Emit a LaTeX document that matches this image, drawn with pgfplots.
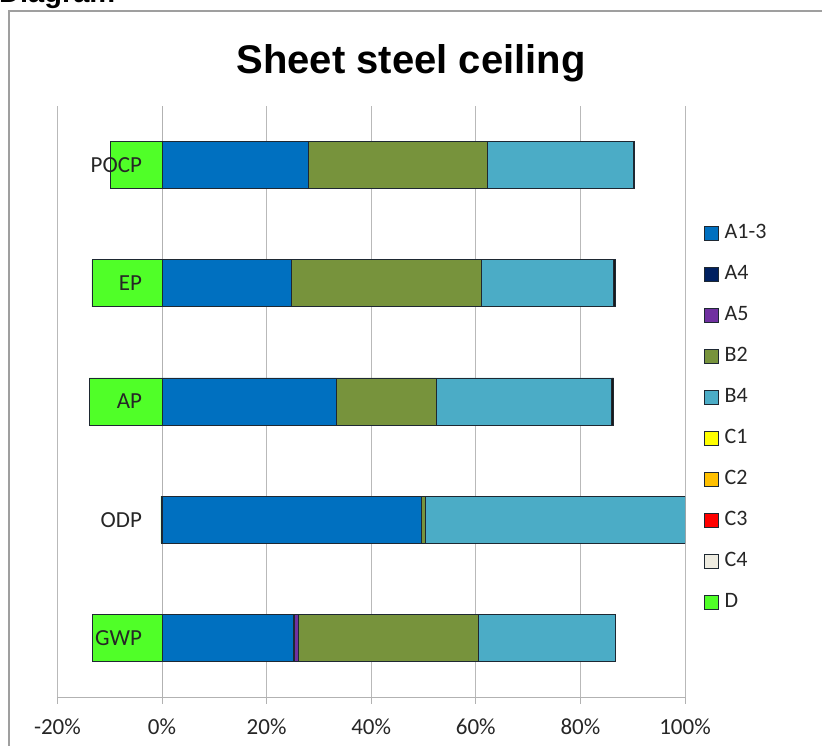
\documentclass[border=0pt]{standalone}
\usepackage{fontspec}
\setmainfont{Carlito}
\newfontfamily\arialfont{Liberation Sans}
\usepackage{pgfplots}
\pgfplotsset{compat=1.18}
\definecolor{cA13}{RGB}{0,112,192}
\definecolor{cA4}{RGB}{0,32,96}
\definecolor{cA5}{RGB}{112,48,160}
\definecolor{cB2}{RGB}{119,147,60}
\definecolor{cB4}{RGB}{75,172,198}
\definecolor{cC1}{RGB}{255,255,0}
\definecolor{cC2}{RGB}{255,192,0}
\definecolor{cC3}{RGB}{255,0,0}
\definecolor{cC4}{RGB}{238,236,225}
\definecolor{cD}{RGB}{80,255,40}
\definecolor{edge}{RGB}{30,40,50}
\pgfplotsset{
  common/.style={
    at={(57.4pt,49pt)}, anchor=south west, scale only axis,
    width=627.6pt, height=591pt,
    xmin=-20, xmax=100, ymin=-0.5, ymax=4.5,
    bar width=47pt,
  },
}
\begin{document}
\begin{tikzpicture}[x=1pt,y=1pt]
\useasboundingbox (0,0) rectangle (822,746);
\begin{scope}
\clip (0,0) rectangle (822,746);
\draw[gray!75, line width=1.4pt] (9,-20) rectangle (840,735);
\node[font=\arialfont\bfseries\fontsize{29}{32}\selectfont, anchor=base west, inner sep=0pt] at (-1,743) {Diagram};
\end{scope}
\node[font=\arialfont\bfseries\fontsize{40}{46}\selectfont, anchor=base, inner sep=0pt] at (411,672) {Sheet steel ceiling};
% module D (negative), drawn first so that the labels lie over it
\begin{axis}[common, hide axis, xbar]
\addplot[fill=cD, draw=edge, line width=0.7pt] coordinates {(-13.3,0) (-0.2,1) (-13.9,2) (-13.4,3) (-9.9,4)};
\end{axis}
\begin{axis}[
  common,
  xbar stacked,
  axis x line=bottom, axis y line=middle,
  axis line style={-, draw=gray!60, line width=0.8pt},
  xtick={-20,0,20,40,60,80,100},
  xticklabel={\pgfmathprintnumber{\tick}\%},
  xtick align=outside, major tick length=7pt,
  xtick style={draw=gray!60, line width=0.8pt},
  xmajorgrids, grid style={gray!55, line width=0.8pt},
  ytick={0,1,2,3,4}, yticklabels={GWP,ODP,AP,EP,POCP},
  ytick style={draw=none},
  extra y ticks={0.5,1.5,2.5,3.5,4.5}, extra y tick labels={},
  extra y tick style={ytick align=outside, major tick length=7pt, tick style={draw=gray!60, line width=0.8pt}},
  /pgf/number format/assume math mode=true,
  tick label style={font=\fontsize{23}{27}\selectfont, text=black!85},
  yticklabel style={xshift=-13pt},
  xticklabel style={yshift=-11pt},
  legend style={at={(1.03,0.806)}, anchor=north west, draw=none, fill=none, inner sep=0pt,
    font=\fontsize{22}{26}\selectfont, row sep=16pt, column sep=3pt,
    nodes={font=\fontsize{22}{26}\selectfont, inner sep=3pt, text height=15pt, text depth=4pt, text=black!85}},
  legend cell align=left,
  legend image code/.code={\draw[#1, draw=edge, line width=0.6pt] (0pt,-7pt) rectangle (14pt,7pt);},
]
\addplot[fill=cA13, draw=edge, line width=0.7pt, forget plot] coordinates {(25.1,0) (49.6,1) (33.4,2) (24.8,3) (27.9,4)};
\addplot[fill=cA4, draw=edge, line width=0.7pt, forget plot] coordinates {(0.3,0) (0,1) (0,2) (0,3) (0,4)};
\addplot[fill=cA5, draw=edge, line width=0.7pt, forget plot] coordinates {(0.6,0) (0,1) (0,2) (0,3) (0,4)};
\addplot[fill=cB2, draw=edge, line width=0.7pt, forget plot] coordinates {(34.5,0) (0.7,1) (19.0,2) (36.3,3) (34.4,4)};
\addplot[fill=cB4, draw=edge, line width=0.7pt, forget plot] coordinates {(26.2,0) (49.7,1) (33.6,2) (25.2,3) (27.9,4)};
\addplot[fill=black!90, draw=edge, line width=0.7pt, forget plot] coordinates {(0,0) (0,1) (0.35,2) (0.35,3) (0.2,4)};
\addlegendimage{fill=cA13}\addlegendentry{A1-3}
\addlegendimage{fill=cA4}\addlegendentry{A4}
\addlegendimage{fill=cA5}\addlegendentry{A5}
\addlegendimage{fill=cB2}\addlegendentry{B2}
\addlegendimage{fill=cB4}\addlegendentry{B4}
\addlegendimage{fill=cC1}\addlegendentry{C1}
\addlegendimage{fill=cC2}\addlegendentry{C2}
\addlegendimage{fill=cC3}\addlegendentry{C3}
\addlegendimage{fill=cC4}\addlegendentry{C4}
\addlegendimage{fill=cD}\addlegendentry{D}
\end{axis}
\end{tikzpicture}
\end{document}
